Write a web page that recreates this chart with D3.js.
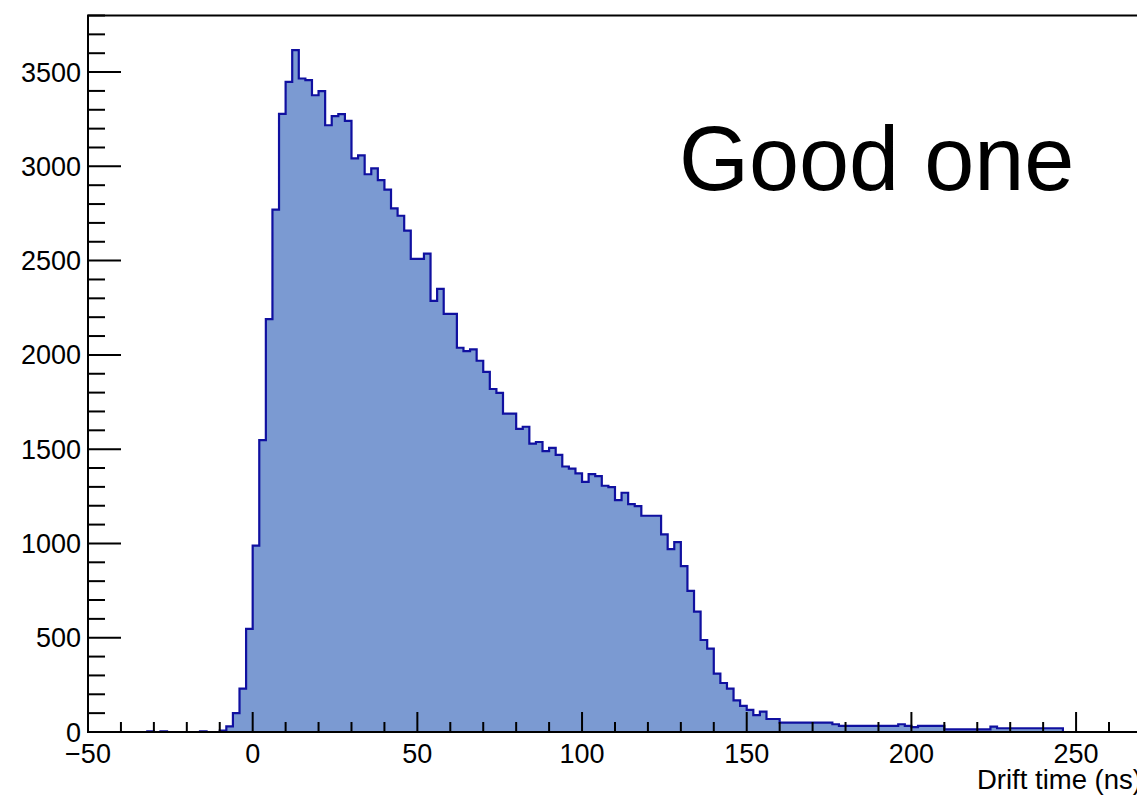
<!DOCTYPE html>
<html>
<head>
<meta charset="utf-8">
<script src="https://cdn.jsdelivr.net/npm/d3@7"></script>
<style>
  html, body { margin: 0; padding: 0; background: #fff; overflow: hidden; }
  svg { display: block; }
  text { font-family: "Liberation Sans", Arial, Helvetica, sans-serif; fill: #000; }
</style>
</head>
<body>
<svg id="chart" width="1137" height="796"></svg>
<script>
// Drift-time histogram: 2 ns bins starting at -50 ns
const binLow = -50;
const binWidth = 2;
const counts = [
  // -50 .. -2
  0, 0, 0, 0, 0, 0, 0, 0, 0, 4, 0, 4, 0, 0, 0, 0, 0, 4, 0, 0, 8, 30, 100, 230, 547,
  // 0 .. 18
  988, 1548, 2190, 2770, 3278, 3448, 3616, 3466, 3457, 3377,
  // 20 .. 38
  3399, 3218, 3266, 3277, 3241, 3042, 3058, 2958, 2989, 2927,
  // 40 .. 58
  2877, 2777, 2738, 2659, 2509, 2509, 2537, 2287, 2350, 2218,
  // 60 .. 78
  2218, 2038, 2020, 2029, 1969, 1910, 1819, 1799, 1688, 1688,
  // 80 .. 98
  1608, 1619, 1529, 1538, 1490, 1507, 1470, 1408, 1397, 1372,
  // 100 .. 118
  1327, 1368, 1357, 1306, 1299, 1230, 1269, 1209, 1198, 1147,
  // 120 .. 138
  1147, 1147, 1048, 970, 1007, 880, 748, 638, 488, 442,
  // 140 .. 158
  310, 260, 230, 168, 139, 117, 90, 108, 69, 69,
  // 160 .. 198
  50, 50, 50, 50, 50, 50, 50, 50, 41, 32, 32, 32, 32, 32, 32, 32, 32, 32, 41, 32,
  // 200 .. 248
  26, 32, 32, 32, 32, 14, 14, 14, 14, 14, 14, 14, 28, 20, 20, 20, 20, 20, 20, 20, 20, 20, 20, 0, 0
];

const xDomain = [-50, 270];
const yDomain = [0, 3800];
const xMajorTicks = [-50, 0, 50, 100, 150, 200, 250];
const yMajorTicks = [0, 500, 1000, 1500, 2000, 2500, 3000, 3500];
const xTitle = "Drift time (ns)";
const annotation = "Good one";

const svg = d3.select("#chart");
const plotLeft = 88, plotTop = 15.5, plotBottom = 732;
const pxPerNs = 3.2936;

const x = d3.scaleLinear().domain(xDomain)
  .range([plotLeft, plotLeft + (xDomain[1] - xDomain[0]) * pxPerNs]);
const y = d3.scaleLinear().domain(yDomain).range([plotBottom, plotTop]);

// step points: each bin's low edge with its count, plus the closing upper edge
const pts = counts.map((c, i) => [binLow + i * binWidth, c]);
pts.push([binLow + counts.length * binWidth, counts[counts.length - 1]]);

const area = d3.area()
  .x(d => x(d[0]))
  .y0(y(0))
  .y1(d => y(d[1]))
  .curve(d3.curveStepAfter);

const line = d3.line()
  .x(d => x(d[0]))
  .y(d => y(d[1]))
  .curve(d3.curveStepAfter);

svg.append("path")
  .datum(pts)
  .attr("d", area)
  .attr("fill", "#7b9ad2");

svg.append("path")
  .datum(pts)
  .attr("d", line)
  .attr("fill", "none")
  .attr("stroke", "#1010a0")
  .attr("stroke-width", 2.2)
  .attr("stroke-linejoin", "miter");

// frame
const xRight = x(xDomain[1]);
svg.append("path")
  .attr("d", `M${xRight},${plotTop}H${plotLeft}V${plotBottom}H${xRight}`)
  .attr("fill", "none")
  .attr("stroke", "#000")
  .attr("stroke-width", 2);

// x-axis ticks (inward), minor every 10 ns
const xMinor = d3.range(xDomain[0], xDomain[1] + 0.001, 10);
svg.append("g").selectAll("line")
  .data(xMinor)
  .join("line")
  .attr("x1", d => x(d)).attr("x2", d => x(d))
  .attr("y1", plotBottom)
  .attr("y2", d => plotBottom - (d % 50 === 0 ? 20 : 10))
  .attr("stroke", "#000")
  .attr("stroke-width", 2);

const fmt = d3.format("d");
svg.append("g").selectAll("text")
  .data(xMajorTicks)
  .join("text")
  .attr("x", d => x(d))
  .attr("y", plotBottom + 31)
  .attr("text-anchor", "middle")
  .attr("font-size", 27)
  .text(d => fmt(d));

// y-axis ticks (inward), minor every 100
const yMinor = d3.range(yDomain[0], yDomain[1] + 0.001, 100);
svg.append("g").selectAll("line")
  .data(yMinor)
  .join("line")
  .attr("y1", d => y(d)).attr("y2", d => y(d))
  .attr("x1", plotLeft)
  .attr("x2", d => plotLeft + (d % 500 === 0 ? 33 : 17))
  .attr("stroke", "#000")
  .attr("stroke-width", 2);

svg.append("g").selectAll("text")
  .data(yMajorTicks)
  .join("text")
  .attr("x", plotLeft - 7)
  .attr("y", d => y(d) + 9.5)
  .attr("text-anchor", "end")
  .attr("font-size", 27)
  .text(d => fmt(d));

// axis title, right-aligned at the axis end
svg.append("text")
  .attr("x", xRight)
  .attr("y", 789)
  .attr("text-anchor", "end")
  .attr("font-size", 27.5)
  .text(xTitle);

// annotation
svg.append("text")
  .attr("x", 679)
  .attr("y", 190)
  .attr("font-size", 90)
  .text(annotation);
</script>
</body>
</html>
